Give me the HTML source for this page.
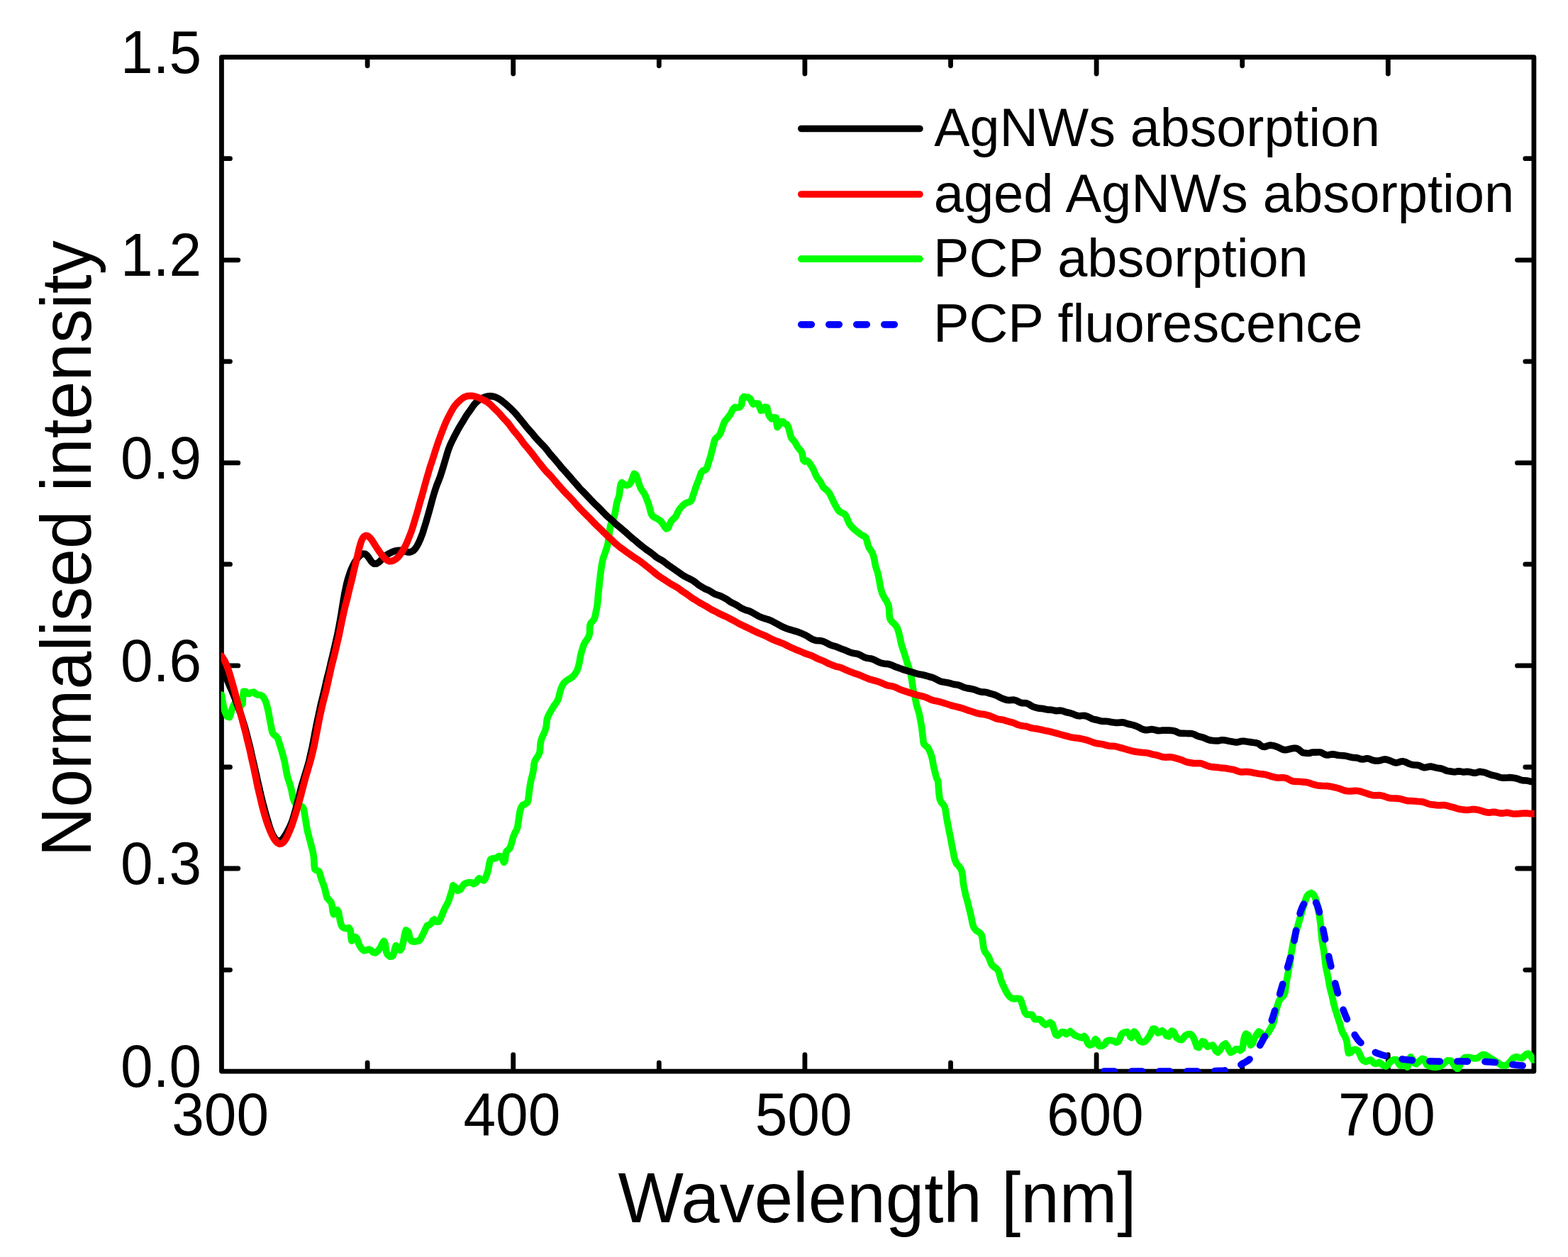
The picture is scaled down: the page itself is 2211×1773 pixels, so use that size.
<!DOCTYPE html>
<html><head><meta charset="utf-8"><title>Normalised intensity vs Wavelength</title>
<style>html,body{margin:0;padding:0;background:#fff;} svg{display:block;}</style>
</head><body>
<svg xmlns="http://www.w3.org/2000/svg" width="2211" height="1773" viewBox="0 0 2211 1773"><rect width="100%" height="100%" fill="#fff"/><rect x="312.45" y="80.7" width="1850.45" height="1430.3999999999999" fill="none" stroke="#000" stroke-width="6.8" stroke-linejoin="round"/><path d="M518.1 1509.9 V1499.0 M518.1 81.9 V92.8 M723.7 1509.9 V1487.7 M723.7 81.9 V104.1 M929.3 1509.9 V1499.0 M929.3 81.9 V92.8 M1134.9 1509.9 V1487.7 M1134.9 81.9 V104.1 M1340.5 1509.9 V1499.0 M1340.5 81.9 V92.8 M1546.1 1509.9 V1487.7 M1546.1 81.9 V104.1 M1751.7 1509.9 V1499.0 M1751.7 81.9 V92.8 M1957.3 1509.9 V1487.7 M1957.3 81.9 V104.1 M313.6 1368.1 H324.5 M2161.7 1368.1 H2150.8 M313.6 1225.0 H335.8 M2161.7 1225.0 H2139.5 M313.6 1082.0 H324.5 M2161.7 1082.0 H2150.8 M313.6 938.9 H335.8 M2161.7 938.9 H2139.5 M313.6 795.9 H324.5 M2161.7 795.9 H2150.8 M313.6 652.9 H335.8 M2161.7 652.9 H2139.5 M313.6 509.8 H324.5 M2161.7 509.8 H2150.8 M313.6 366.8 H335.8 M2161.7 366.8 H2139.5 M313.6 223.7 H324.5 M2161.7 223.7 H2150.8" stroke="#000" stroke-width="6.8" stroke-linecap="round" fill="none"/><defs><clipPath id="pc"><rect x="311.6" y="70" width="1852.1" height="1442.1"/></clipPath></defs><g clip-path="url(#pc)" fill="none" stroke-linejoin="round" stroke-linecap="round"><path d="M312.4 980.0 L313.3 986.0 L313.9 989.4 L314.5 993.0 L315.3 996.7 L316.1 1000.1 L318.1 1005.9 L320.4 1010.7 L323.6 1011.5 L325.4 1006.6 L326.3 1003.4 L328.0 997.9 L329.7 994.1 L332.2 990.6 L335.6 990.9 L338.0 992.8 L340.0 995.4 L342.0 992.6 L342.2 987.6 L342.5 983.0 L343.0 979.3 L343.6 975.4 L346.6 975.4 L348.4 978.2 L351.8 978.3 L354.5 976.8 L357.9 976.2 L360.5 978.7 L363.5 980.0 L367.4 980.3 L370.9 982.5 L372.8 985.7 L374.6 989.5 L376.1 994.0 L377.4 999.3 L378.6 1004.8 L379.6 1010.1 L380.5 1015.1 L381.4 1020.1 L382.4 1025.0 L383.2 1029.7 L384.3 1033.5 L385.9 1036.0 L389.1 1038.2 L391.7 1041.4 L393.1 1045.8 L394.0 1048.9 L394.9 1051.6 L395.7 1053.9 L396.8 1057.8 L398.3 1063.1 L399.2 1066.1 L400.0 1069.5 L400.9 1072.8 L401.6 1076.1 L402.8 1082.5 L403.9 1088.6 L405.1 1094.4 L406.7 1100.0 L407.7 1102.8 L408.6 1105.6 L409.5 1108.5 L410.3 1111.4 L411.1 1114.6 L411.8 1118.3 L412.4 1121.9 L413.1 1125.1 L414.6 1129.9 L416.3 1133.0 L419.0 1135.2 L422.5 1136.7 L426.3 1137.8 L428.3 1141.0 L429.1 1145.8 L429.8 1150.0 L430.6 1155.1 L431.1 1157.7 L431.5 1160.6 L432.0 1163.6 L433.0 1169.3 L434.1 1174.4 L435.4 1179.3 L436.2 1182.3 L437.1 1185.3 L438.1 1189.3 L439.0 1193.1 L440.6 1198.8 L441.5 1203.2 L442.1 1206.8 L442.6 1210.7 L442.9 1215.8 L443.2 1221.6 L443.9 1226.1 L446.7 1227.6 L449.7 1228.7 L451.0 1232.0 L452.0 1236.0 L453.1 1239.6 L454.6 1243.7 L456.3 1248.4 L457.8 1252.9 L458.9 1257.3 L459.9 1262.0 L461.2 1266.3 L464.1 1269.6 L467.0 1272.7 L468.3 1277.8 L468.8 1281.5 L469.2 1285.3 L470.5 1289.7 L473.5 1286.9 L475.5 1283.4 L477.6 1287.2 L478.2 1291.6 L479.1 1296.0 L480.1 1301.0 L481.4 1305.2 L482.9 1307.6 L485.8 1309.2 L488.8 1309.6 L491.9 1308.6 L494.1 1312.0 L494.5 1315.1 L494.8 1318.7 L495.0 1322.2 L495.9 1327.1 L498.7 1324.9 L500.8 1321.6 L503.2 1323.2 L504.6 1327.4 L506.3 1332.1 L508.4 1336.0 L510.8 1339.1 L513.3 1340.8 L517.4 1339.9 L520.1 1339.0 L523.7 1340.7 L526.0 1343.3 L529.6 1344.0 L532.4 1341.7 L535.2 1338.2 L537.5 1334.4 L539.6 1329.9 L541.4 1327.4 L543.4 1332.2 L543.8 1336.1 L544.3 1339.8 L544.9 1343.1 L546.8 1347.0 L549.7 1349.3 L553.8 1348.7 L555.5 1344.0 L556.2 1340.8 L556.8 1337.8 L558.4 1333.6 L561.8 1337.3 L564.2 1340.4 L566.4 1337.6 L567.4 1334.0 L568.4 1329.7 L569.4 1324.7 L570.3 1319.8 L571.1 1316.2 L572.4 1311.9 L576.0 1314.4 L576.7 1317.5 L577.4 1320.8 L578.3 1323.8 L580.2 1327.4 L583.9 1328.2 L587.2 1327.7 L591.1 1326.7 L593.6 1323.5 L595.0 1320.5 L596.6 1317.4 L598.5 1313.5 L600.5 1308.9 L602.4 1305.3 L605.5 1304.6 L608.5 1301.6 L610.0 1298.6 L612.5 1296.9 L615.5 1300.2 L619.0 1299.9 L620.4 1297.3 L622.0 1293.7 L623.9 1289.1 L625.9 1284.1 L627.8 1280.0 L629.6 1276.9 L631.3 1273.7 L633.0 1269.5 L634.6 1264.6 L636.1 1259.8 L637.4 1255.8 L638.2 1252.0 L638.7 1248.8 L642.8 1252.1 L645.3 1256.3 L649.2 1254.8 L651.9 1250.3 L654.7 1246.9 L657.8 1245.4 L661.1 1244.7 L665.2 1244.8 L667.9 1246.9 L671.6 1244.8 L673.5 1241.2 L675.5 1238.9 L679.0 1240.6 L682.5 1241.8 L684.6 1238.7 L686.5 1233.5 L688.2 1227.8 L689.4 1221.7 L690.4 1215.8 L691.7 1212.0 L695.0 1210.8 L698.7 1210.8 L701.0 1209.3 L703.4 1207.6 L706.7 1208.3 L708.8 1212.6 L710.6 1216.4 L712.3 1213.2 L712.8 1206.9 L713.2 1203.8 L714.5 1200.3 L716.5 1198.7 L718.6 1196.7 L720.3 1192.8 L721.9 1187.3 L723.3 1181.8 L724.9 1177.3 L726.5 1173.9 L728.1 1171.3 L729.2 1168.6 L730.0 1165.3 L730.6 1161.2 L731.4 1156.4 L732.1 1150.8 L732.9 1145.6 L733.9 1141.8 L734.8 1139.0 L736.8 1135.8 L740.4 1134.2 L743.8 1131.8 L744.9 1127.9 L745.5 1122.7 L746.1 1117.3 L746.8 1112.3 L747.5 1107.3 L748.4 1102.3 L749.5 1097.5 L750.8 1092.7 L751.9 1087.8 L752.6 1082.6 L753.1 1077.6 L754.2 1073.4 L756.3 1069.7 L758.9 1065.9 L761.0 1061.1 L761.7 1055.6 L761.9 1050.2 L762.7 1045.0 L764.8 1039.3 L766.2 1036.4 L767.5 1033.4 L768.7 1030.3 L770.3 1024.6 L770.8 1019.5 L771.3 1014.7 L773.0 1009.8 L775.8 1004.6 L778.8 999.5 L781.3 995.2 L783.8 991.9 L786.0 988.5 L787.9 983.7 L788.6 980.5 L789.3 977.4 L790.0 974.8 L790.7 972.3 L792.6 967.7 L794.7 964.0 L797.2 961.3 L800.2 959.0 L803.9 957.0 L807.5 954.5 L810.2 951.4 L812.3 948.3 L814.0 944.9 L815.6 940.2 L817.2 933.4 L817.9 928.8 L818.6 924.8 L820.1 919.0 L821.6 914.1 L823.1 909.6 L825.1 905.7 L827.7 902.1 L830.1 898.1 L831.5 893.4 L831.6 888.1 L831.7 883.1 L832.8 879.3 L835.0 876.7 L837.2 874.3 L838.6 871.1 L839.5 867.5 L840.2 864.0 L840.9 860.5 L841.8 856.2 L842.5 851.2 L843.1 844.2 L843.4 840.4 L843.7 836.9 L844.1 833.1 L844.6 828.6 L845.2 823.2 L845.9 817.0 L846.6 810.4 L847.5 804.0 L848.4 798.0 L849.3 792.5 L850.3 788.1 L851.5 784.5 L852.8 781.0 L854.0 777.3 L855.2 773.9 L856.2 770.6 L857.1 766.9 L857.9 762.3 L858.6 757.0 L859.3 751.1 L860.0 745.7 L860.8 741.4 L861.7 738.4 L862.7 736.1 L864.7 731.7 L866.5 727.1 L867.7 721.4 L868.7 715.2 L869.7 709.6 L870.9 705.5 L872.5 701.2 L873.4 697.1 L873.9 692.7 L874.3 688.4 L874.9 685.0 L875.6 682.4 L877.0 680.7 L880.1 683.4 L884.0 684.6 L887.3 683.3 L889.9 680.0 L891.2 676.2 L892.9 671.4 L894.3 668.1 L897.1 670.3 L898.6 674.6 L899.6 678.0 L900.7 681.4 L901.9 684.6 L903.2 687.9 L904.6 690.7 L906.1 692.8 L908.5 696.1 L910.2 699.6 L911.9 704.0 L913.6 708.5 L915.1 712.7 L916.3 717.0 L917.3 721.3 L918.3 724.8 L920.2 727.9 L923.2 729.8 L926.2 731.3 L929.1 733.2 L932.0 735.3 L934.6 738.9 L937.0 742.8 L939.4 745.7 L942.3 744.5 L944.3 739.2 L946.4 735.2 L949.1 732.2 L951.8 729.9 L953.8 727.1 L955.1 723.9 L956.5 721.0 L958.4 718.0 L960.4 715.5 L963.2 712.6 L966.6 709.9 L969.8 708.6 L972.6 707.9 L974.7 706.1 L975.6 704.0 L976.6 700.9 L978.2 696.0 L979.8 691.2 L980.9 687.9 L982.0 684.8 L983.1 682.0 L984.1 679.5 L985.2 676.9 L986.3 673.8 L987.5 670.1 L988.9 666.6 L991.3 663.7 L994.2 663.0 L996.7 660.6 L997.8 657.2 L998.8 653.5 L999.8 650.3 L1000.9 647.2 L1002.0 643.6 L1003.0 639.4 L1004.1 635.0 L1005.2 630.9 L1006.1 627.4 L1006.8 624.3 L1007.6 621.2 L1009.0 618.7 L1012.0 616.0 L1013.9 614.3 L1015.5 611.6 L1017.0 607.8 L1018.5 603.4 L1020.0 599.1 L1021.4 595.5 L1023.1 592.9 L1025.2 590.7 L1027.4 587.7 L1029.6 584.8 L1031.5 581.2 L1033.4 577.3 L1036.1 574.4 L1039.8 575.0 L1043.2 574.3 L1045.7 570.7 L1046.2 566.3 L1046.7 562.0 L1048.8 559.5 L1051.8 560.4 L1055.1 560.4 L1058.3 562.9 L1060.1 567.0 L1062.0 570.0 L1065.7 569.1 L1069.4 569.3 L1071.2 574.4 L1073.0 579.1 L1076.2 578.4 L1078.6 574.2 L1081.6 574.5 L1082.4 578.9 L1083.3 583.1 L1085.4 587.6 L1087.9 590.7 L1090.8 588.7 L1094.1 589.1 L1094.5 591.6 L1094.9 594.9 L1095.2 598.3 L1096.2 602.7 L1098.9 599.1 L1100.9 594.6 L1104.2 594.8 L1106.4 597.6 L1109.5 598.5 L1111.8 602.8 L1113.4 609.1 L1114.9 615.2 L1116.5 618.6 L1118.8 621.1 L1121.1 623.8 L1122.5 626.4 L1124.1 629.5 L1126.8 633.2 L1129.7 636.2 L1131.1 639.4 L1131.9 644.2 L1132.7 648.8 L1134.9 650.9 L1137.8 649.8 L1140.9 652.4 L1143.2 655.8 L1145.3 659.2 L1147.2 662.6 L1148.9 666.6 L1150.8 671.0 L1153.0 674.8 L1155.3 677.8 L1157.3 680.2 L1159.0 683.8 L1161.0 687.4 L1163.5 689.5 L1166.5 692.0 L1169.4 695.5 L1171.8 700.0 L1174.1 705.0 L1176.4 709.8 L1178.7 714.1 L1180.9 717.9 L1183.3 721.1 L1186.1 722.9 L1189.0 724.0 L1191.6 725.6 L1193.6 728.9 L1195.2 733.3 L1197.2 737.8 L1199.7 741.6 L1202.5 744.7 L1205.5 747.4 L1208.8 750.0 L1212.2 752.6 L1215.2 754.8 L1218.4 756.2 L1220.8 757.9 L1222.2 761.9 L1223.5 767.1 L1224.9 771.6 L1226.7 774.5 L1229.6 778.7 L1231.3 783.1 L1232.6 788.2 L1233.3 791.2 L1233.9 794.9 L1234.7 798.7 L1235.6 801.9 L1236.5 804.5 L1237.5 807.4 L1238.4 811.1 L1239.3 815.7 L1240.2 820.4 L1240.9 824.7 L1241.5 828.2 L1242.1 830.8 L1242.7 832.8 L1243.5 835.2 L1244.4 838.2 L1247.1 843.1 L1250.2 848.1 L1252.7 853.6 L1253.4 857.0 L1253.8 860.8 L1254.0 865.0 L1254.3 868.9 L1254.7 872.0 L1255.5 874.0 L1258.4 877.6 L1262.1 881.0 L1265.2 885.5 L1267.1 891.1 L1268.3 896.2 L1269.3 900.3 L1270.0 904.1 L1270.8 908.0 L1272.0 912.1 L1273.5 916.6 L1275.0 921.0 L1276.3 925.1 L1277.6 929.4 L1279.1 934.2 L1281.0 940.1 L1282.0 943.3 L1283.0 946.5 L1283.9 949.8 L1284.7 953.4 L1285.8 959.5 L1286.6 965.4 L1287.5 971.4 L1288.1 974.7 L1288.8 977.6 L1289.5 980.3 L1290.2 983.1 L1290.9 986.6 L1291.6 990.5 L1293.0 996.3 L1294.5 1001.0 L1295.8 1005.3 L1296.8 1009.9 L1297.7 1014.8 L1298.6 1020.0 L1299.1 1022.5 L1299.6 1025.2 L1300.0 1028.8 L1300.5 1032.7 L1300.9 1036.4 L1301.6 1041.8 L1301.8 1045.5 L1302.7 1049.4 L1305.2 1051.7 L1308.3 1054.3 L1310.2 1057.9 L1312.2 1062.6 L1313.8 1067.5 L1314.9 1072.1 L1315.7 1076.8 L1316.6 1081.7 L1318.0 1087.4 L1319.5 1093.3 L1320.8 1097.8 L1322.5 1101.2 L1322.9 1104.2 L1323.2 1108.2 L1323.6 1113.2 L1324.0 1118.6 L1324.6 1123.5 L1325.3 1127.5 L1327.4 1132.0 L1330.1 1134.7 L1332.2 1138.3 L1333.4 1143.7 L1333.8 1146.2 L1334.1 1148.9 L1334.5 1151.8 L1335.0 1154.8 L1335.6 1158.0 L1336.3 1161.6 L1337.0 1165.4 L1337.7 1169.1 L1338.4 1172.4 L1339.1 1175.6 L1339.8 1179.0 L1340.5 1182.7 L1341.2 1186.5 L1341.9 1190.3 L1342.6 1194.1 L1343.3 1197.5 L1344.0 1200.7 L1344.5 1203.9 L1345.1 1207.2 L1345.8 1210.3 L1346.6 1213.0 L1348.7 1218.0 L1351.7 1221.4 L1354.7 1225.1 L1356.6 1230.3 L1357.5 1236.5 L1357.8 1240.1 L1358.1 1243.8 L1358.6 1247.4 L1359.2 1250.6 L1359.8 1253.7 L1360.5 1256.9 L1361.2 1260.2 L1361.9 1263.3 L1362.7 1266.1 L1363.5 1269.0 L1364.5 1272.5 L1365.4 1276.6 L1366.4 1280.7 L1367.4 1284.6 L1368.3 1288.2 L1369.2 1291.7 L1370.0 1295.8 L1370.8 1300.1 L1371.7 1303.9 L1372.6 1306.8 L1373.8 1309.3 L1376.9 1312.8 L1380.5 1314.9 L1383.5 1317.9 L1384.5 1320.2 L1385.2 1323.7 L1385.8 1328.0 L1386.4 1332.5 L1387.0 1336.5 L1387.7 1339.6 L1389.5 1343.5 L1391.6 1346.0 L1393.5 1348.7 L1395.2 1352.7 L1396.8 1357.1 L1398.7 1361.1 L1401.4 1363.6 L1404.5 1365.6 L1407.1 1368.3 L1408.8 1372.3 L1410.0 1377.1 L1411.2 1381.6 L1412.5 1385.2 L1413.8 1388.4 L1415.4 1391.6 L1417.2 1395.5 L1419.3 1399.6 L1421.6 1403.3 L1424.2 1406.3 L1427.1 1408.2 L1430.0 1408.9 L1434.4 1408.2 L1438.3 1408.7 L1440.0 1412.0 L1441.3 1416.1 L1442.5 1419.9 L1443.7 1423.7 L1444.9 1427.7 L1447.8 1431.2 L1450.8 1431.2 L1455.0 1431.1 L1457.1 1434.4 L1459.1 1437.7 L1462.5 1437.7 L1466.4 1437.8 L1468.8 1440.2 L1471.2 1443.3 L1473.7 1445.3 L1478.0 1443.8 L1480.8 1442.2 L1483.7 1444.2 L1485.0 1447.9 L1486.2 1452.1 L1487.4 1455.8 L1488.7 1459.4 L1491.6 1460.7 L1494.5 1458.2 L1497.4 1455.6 L1500.7 1455.9 L1503.1 1458.5 L1506.4 1456.5 L1509.1 1454.6 L1511.9 1457.0 L1515.3 1460.0 L1518.7 1461.5 L1522.6 1463.0 L1525.8 1463.8 L1528.8 1461.6 L1531.3 1464.5 L1532.6 1468.7 L1534.1 1472.1 L1536.6 1474.1 L1540.3 1473.0 L1542.5 1469.2 L1544.6 1465.7 L1546.9 1467.5 L1548.1 1471.9 L1549.7 1475.3 L1553.3 1475.5 L1555.9 1474.5 L1558.5 1472.0 L1560.3 1468.6 L1563.7 1467.4 L1566.7 1467.5 L1570.7 1468.4 L1573.9 1470.4 L1577.4 1468.6 L1578.8 1465.5 L1580.0 1462.8 L1580.8 1460.0 L1583.2 1457.2 L1586.1 1456.1 L1589.2 1455.4 L1592.4 1458.4 L1593.8 1462.2 L1595.3 1463.8 L1597.6 1458.6 L1599.2 1455.0 L1602.4 1458.3 L1604.9 1464.4 L1607.4 1468.5 L1611.1 1470.0 L1614.6 1469.0 L1617.7 1465.7 L1619.7 1462.8 L1621.7 1459.7 L1623.7 1455.2 L1625.7 1451.0 L1628.7 1451.3 L1630.6 1454.1 L1632.7 1456.9 L1636.3 1455.4 L1638.8 1453.8 L1642.5 1457.0 L1644.9 1461.0 L1648.3 1461.8 L1650.3 1457.8 L1652.2 1454.0 L1655.2 1455.5 L1657.1 1460.0 L1659.2 1463.8 L1662.9 1466.2 L1666.5 1466.6 L1668.9 1463.9 L1671.3 1460.5 L1674.8 1458.8 L1678.5 1458.6 L1680.7 1460.0 L1682.7 1463.2 L1684.6 1467.4 L1686.2 1472.2 L1687.7 1476.6 L1690.5 1477.5 L1692.9 1473.2 L1695.4 1469.0 L1698.7 1470.0 L1700.6 1473.7 L1702.7 1476.3 L1706.2 1475.1 L1709.9 1474.1 L1712.2 1477.4 L1714.4 1482.1 L1717.1 1484.4 L1720.6 1480.8 L1722.5 1477.2 L1724.5 1474.3 L1728.0 1472.0 L1730.6 1475.4 L1732.8 1480.9 L1735.2 1484.5 L1739.5 1482.6 L1742.3 1479.9 L1746.3 1479.9 L1748.8 1481.7 L1751.7 1479.5 L1752.3 1477.2 L1752.9 1474.0 L1753.3 1470.3 L1753.9 1466.3 L1755.2 1461.2 L1756.8 1458.1 L1760.1 1460.1 L1760.9 1463.5 L1761.7 1467.5 L1762.6 1471.4 L1763.4 1474.2 L1766.5 1471.5 L1768.1 1466.3 L1770.1 1462.4 L1772.5 1458.3 L1775.0 1455.1 L1778.1 1457.1 L1779.9 1461.8 L1784.1 1462.0 L1786.2 1459.4 L1788.5 1456.0 L1790.7 1452.3 L1792.7 1448.8 L1794.3 1445.9 L1796.0 1441.4 L1796.8 1437.0 L1797.9 1431.8 L1798.8 1428.4 L1799.7 1424.7 L1800.7 1420.8 L1801.8 1417.0 L1802.9 1413.5 L1805.2 1408.8 L1807.8 1406.5 L1810.2 1404.1 L1811.9 1399.7 L1812.7 1394.3 L1813.4 1388.6 L1813.9 1385.6 L1814.5 1382.4 L1815.2 1378.6 L1816.0 1374.2 L1816.7 1369.8 L1817.4 1366.3 L1818.1 1362.7 L1818.7 1359.9 L1819.2 1357.0 L1819.7 1353.7 L1820.1 1349.8 L1820.6 1345.9 L1821.2 1342.3 L1821.8 1339.0 L1822.5 1335.2 L1823.2 1331.2 L1824.0 1327.7 L1824.7 1324.3 L1825.4 1321.6 L1826.8 1316.6 L1828.1 1312.3 L1829.6 1307.5 L1831.3 1301.4 L1833.1 1295.1 L1834.8 1289.8 L1836.2 1284.5 L1837.6 1279.5 L1838.9 1275.7 L1840.2 1271.7 L1841.5 1267.5 L1843.1 1263.9 L1845.2 1261.3 L1848.8 1259.5 L1852.0 1261.6 L1853.9 1265.0 L1855.6 1269.1 L1856.8 1273.5 L1857.8 1278.0 L1858.7 1282.7 L1859.8 1288.1 L1860.3 1291.1 L1860.8 1294.2 L1861.3 1297.4 L1861.8 1300.9 L1862.2 1304.3 L1862.5 1307.8 L1862.8 1311.7 L1863.2 1316.1 L1863.5 1320.4 L1863.9 1324.3 L1864.4 1327.9 L1864.9 1331.0 L1865.4 1333.6 L1865.9 1336.4 L1866.5 1339.9 L1867.0 1343.5 L1867.5 1347.0 L1868.0 1350.7 L1868.5 1354.8 L1869.0 1359.1 L1869.5 1363.1 L1870.1 1366.5 L1870.7 1369.4 L1871.4 1372.4 L1872.1 1375.9 L1872.9 1379.7 L1873.6 1383.7 L1874.3 1387.9 L1875.0 1391.4 L1875.7 1395.1 L1876.5 1398.1 L1877.2 1400.6 L1877.9 1403.0 L1878.5 1405.6 L1879.6 1410.8 L1880.6 1415.4 L1881.6 1419.3 L1882.8 1423.4 L1884.3 1428.0 L1885.8 1433.1 L1887.6 1438.7 L1889.2 1443.4 L1890.3 1447.3 L1891.3 1451.2 L1892.6 1455.2 L1894.6 1458.9 L1897.0 1462.8 L1898.9 1468.0 L1899.9 1474.1 L1900.2 1477.6 L1900.5 1480.9 L1901.6 1485.5 L1904.8 1484.6 L1907.4 1481.4 L1911.0 1480.1 L1914.5 1481.9 L1916.4 1484.5 L1918.0 1488.3 L1919.6 1492.3 L1922.2 1495.9 L1925.9 1497.5 L1929.1 1496.2 L1932.2 1494.8 L1934.4 1496.6 L1936.4 1498.8 L1939.1 1500.5 L1942.1 1499.9 L1944.6 1498.3 L1947.8 1500.3 L1950.2 1502.8 L1954.0 1503.9 L1957.4 1502.0 L1959.6 1498.7 L1963.1 1495.8 L1965.9 1494.5 L1969.2 1494.9 L1971.2 1498.4 L1973.1 1501.7 L1975.0 1503.3 L1978.9 1502.4 L1981.6 1500.3 L1984.3 1501.8 L1984.5 1505.1 L1986.0 1501.4 L1986.7 1497.9 L1987.4 1494.6 L1989.1 1490.8 L1992.2 1495.0 L1994.4 1499.5 L1996.9 1500.7 L2000.0 1498.1 L2002.4 1495.7 L2005.2 1493.4 L2008.7 1494.0 L2010.2 1498.1 L2012.1 1502.1 L2015.3 1503.7 L2019.8 1504.8 L2024.9 1505.3 L2030.0 1504.2 L2032.8 1502.9 L2035.6 1500.6 L2038.5 1498.0 L2041.1 1495.9 L2045.8 1496.0 L2047.9 1498.4 L2049.9 1501.6 L2051.8 1504.6 L2055.2 1507.6 L2057.8 1504.4 L2058.9 1501.7 L2060.0 1498.7 L2061.5 1495.3 L2065.7 1491.6 L2071.8 1491.4 L2075.0 1492.2 L2078.0 1492.8 L2083.0 1492.6 L2086.9 1490.0 L2090.4 1487.6 L2094.2 1487.9 L2097.8 1490.0 L2101.7 1492.7 L2106.3 1495.3 L2109.0 1497.0 L2111.8 1498.8 L2114.6 1500.8 L2117.4 1502.6 L2123.0 1502.9 L2125.9 1501.4 L2128.7 1498.4 L2131.5 1494.8 L2134.1 1492.1 L2138.3 1490.6 L2141.5 1491.8 L2145.7 1492.6 L2148.9 1490.1 L2152.1 1487.0 L2155.0 1486.1 L2157.8 1488.5 L2160.3 1492.4 L2162.0 1495.0" stroke="#0f0" stroke-width="9.7"/><path d="M312.4 941.0 L313.7 944.5 L314.9 947.2 L316.2 949.7 L317.4 952.4 L318.7 955.2 L319.9 958.0 L321.2 960.9 L322.4 964.0 L323.7 967.0 L324.9 969.9 L326.2 972.6 L327.4 975.5 L328.7 978.4 L329.9 981.5 L331.2 984.8 L332.4 988.3 L333.7 991.6 L334.9 994.9 L336.2 998.1 L337.4 1001.6 L338.4 1004.4 L339.4 1007.2 L340.4 1010.2 L341.4 1013.3 L342.4 1016.6 L343.4 1019.8 L344.4 1023.0 L345.4 1026.3 L346.4 1030.0 L347.4 1033.8 L348.4 1037.7 L349.2 1040.7 L349.9 1043.7 L350.7 1046.6 L351.4 1049.6 L352.2 1052.6 L352.9 1055.6 L353.7 1058.8 L354.4 1062.3 L355.2 1065.8 L355.9 1069.1 L356.7 1072.4 L357.4 1075.5 L358.2 1078.6 L358.9 1081.9 L359.7 1085.3 L360.4 1088.7 L361.2 1092.0 L361.9 1095.3 L362.7 1098.8 L363.4 1102.3 L364.2 1105.5 L364.9 1108.5 L365.7 1111.6 L366.4 1115.0 L367.2 1118.4 L367.9 1121.6 L368.7 1124.7 L369.4 1127.8 L370.2 1130.9 L370.9 1133.8 L371.7 1136.5 L372.4 1139.3 L373.4 1143.0 L374.4 1146.7 L375.4 1150.3 L376.4 1153.7 L377.4 1157.2 L378.4 1160.5 L379.4 1163.8 L380.4 1167.0 L381.7 1170.7 L382.9 1173.9 L384.2 1176.7 L385.7 1179.5 L387.4 1182.1 L389.4 1184.4 L391.9 1186.1 L394.9 1186.1 L397.4 1184.5 L399.7 1182.0 L401.4 1179.5 L403.2 1176.6 L404.9 1173.5 L406.4 1170.6 L407.9 1167.5 L409.2 1164.9 L410.4 1162.1 L411.7 1158.9 L412.7 1156.0 L413.7 1152.8 L414.7 1149.4 L415.7 1145.9 L416.7 1142.2 L417.7 1138.4 L418.4 1135.4 L419.2 1132.4 L419.9 1129.5 L420.7 1126.8 L421.4 1124.1 L422.2 1121.1 L422.9 1117.9 L423.9 1113.9 L424.9 1110.1 L425.9 1106.7 L426.9 1103.4 L427.9 1100.0 L428.9 1096.7 L429.9 1093.4 L430.9 1090.1 L431.9 1087.0 L432.9 1083.8 L433.9 1080.5 L434.9 1076.9 L435.7 1074.0 L436.4 1070.8 L437.2 1067.4 L437.9 1064.0 L438.7 1060.6 L439.4 1057.4 L440.2 1054.0 L440.9 1050.3 L441.7 1046.4 L442.4 1042.4 L443.2 1038.4 L443.9 1034.4 L444.7 1030.6 L445.4 1026.8 L446.2 1023.1 L446.9 1019.4 L447.7 1015.7 L448.4 1012.2 L449.2 1008.8 L449.9 1005.3 L450.7 1001.7 L451.4 998.1 L452.2 994.7 L452.9 991.6 L453.7 988.6 L454.4 985.6 L455.2 982.4 L455.9 979.2 L456.7 976.2 L457.4 973.2 L458.2 970.0 L458.9 966.5 L459.7 963.0 L460.4 959.7 L461.2 956.6 L461.9 953.8 L462.7 951.0 L463.4 948.2 L464.2 945.1 L464.9 942.0 L465.7 938.6 L466.4 935.2 L467.2 932.1 L467.9 929.2 L468.7 926.2 L469.4 922.9 L470.2 919.6 L470.9 916.4 L471.7 913.2 L472.4 910.0 L473.2 906.7 L473.9 903.5 L474.7 900.2 L475.4 896.9 L476.2 893.3 L476.9 889.5 L477.7 885.5 L478.4 881.5 L479.2 877.5 L479.9 873.3 L480.7 868.9 L481.2 865.7 L481.7 862.4 L482.2 859.3 L482.7 856.3 L483.2 853.3 L483.7 850.3 L484.4 845.7 L485.2 841.3 L485.9 837.3 L486.7 833.6 L487.4 830.0 L488.2 826.4 L488.9 823.0 L489.7 820.0 L490.7 816.4 L491.7 813.2 L492.7 810.2 L493.7 807.3 L494.9 803.9 L496.2 801.0 L497.7 797.8 L499.2 795.0 L500.9 792.0 L502.7 789.3 L504.7 786.6 L506.7 784.4 L509.2 782.2 L511.9 781.0 L515.0 781.4 L517.5 783.4 L519.5 785.9 L521.2 788.5 L523.0 791.1 L525.0 793.5 L527.5 795.2 L530.5 795.1 L533.2 793.7 L535.7 791.7 L538.0 789.4 L540.2 787.0 L542.5 784.8 L545.0 782.9 L547.5 781.4 L550.2 780.0 L553.0 778.6 L556.0 777.5 L559.0 776.7 L562.0 776.3 L565.0 776.4 L568.0 777.1 L571.0 777.9 L574.0 778.6 L577.0 778.9 L580.0 778.3 L582.7 776.8 L585.0 774.5 L587.0 771.8 L588.7 768.8 L590.2 765.9 L591.7 762.7 L593.0 759.7 L594.2 756.6 L595.5 753.3 L596.5 750.2 L597.5 746.9 L598.5 743.6 L599.5 740.4 L600.5 737.3 L601.5 733.9 L602.5 730.3 L603.5 726.8 L604.5 723.4 L605.5 719.9 L606.5 716.3 L607.5 712.5 L608.5 708.7 L609.5 705.0 L610.5 701.4 L611.5 698.0 L612.5 694.7 L613.5 691.5 L614.5 688.4 L615.5 685.5 L616.7 682.3 L618.0 679.3 L619.2 676.0 L620.5 672.7 L621.7 669.0 L622.7 666.0 L623.7 662.8 L624.7 659.5 L625.7 656.2 L626.7 652.9 L627.7 649.4 L628.7 646.0 L629.7 642.6 L630.7 639.2 L631.7 636.1 L632.7 633.2 L634.0 629.8 L635.2 626.8 L636.5 624.1 L638.0 621.0 L639.5 618.0 L641.0 615.0 L642.5 612.2 L644.0 609.4 L645.5 606.5 L647.0 603.8 L648.5 601.2 L650.2 598.4 L652.0 595.6 L653.7 592.7 L655.5 589.8 L657.2 586.9 L659.0 584.2 L660.7 581.8 L662.5 579.4 L664.5 576.5 L666.5 573.6 L668.5 570.8 L670.5 568.5 L672.7 566.4 L675.0 564.7 L677.5 563.0 L680.2 561.4 L683.2 560.2 L686.2 559.4 L689.2 558.9 L692.2 558.7 L695.2 559.1 L698.2 559.9 L701.2 561.3 L704.0 562.9 L706.7 564.7 L709.2 566.6 L711.7 568.7 L714.2 570.9 L716.5 572.9 L718.7 574.9 L721.0 577.0 L723.2 579.3 L725.5 581.6 L727.5 583.9 L729.5 586.2 L731.5 588.7 L733.5 591.1 L735.5 593.5 L737.5 596.0 L739.5 598.5 L741.5 601.1 L743.5 603.5 L745.5 605.8 L747.5 608.0 L749.5 610.2 L751.5 612.6 L753.5 615.1 L755.5 617.5 L757.5 619.7 L759.5 621.8 L761.7 624.2 L764.0 626.6 L766.2 628.8 L768.2 630.9 L770.2 633.3 L772.2 635.9 L774.2 638.5 L776.2 641.0 L778.2 643.3 L780.2 645.5 L782.2 647.8 L784.2 650.1 L786.2 652.5 L788.2 654.9 L790.2 657.4 L792.2 659.9 L794.2 662.1 L796.2 664.3 L798.2 666.4 L800.2 668.7 L802.2 671.0 L804.2 673.3 L806.2 675.7 L808.2 677.9 L810.2 680.2 L812.5 682.7 L814.7 685.4 L817.0 688.1 L819.2 690.6 L821.5 692.8 L823.7 695.0 L826.0 697.4 L828.2 699.8 L830.5 702.1 L832.7 704.5 L835.0 706.9 L837.2 709.2 L839.5 711.4 L841.7 713.5 L844.0 715.7 L846.2 718.0 L848.5 720.3 L850.7 722.6 L853.0 725.0 L855.2 727.2 L857.5 729.3 L859.7 731.2 L862.0 733.1 L864.2 735.2 L866.5 737.3 L868.7 739.4 L871.0 741.3 L873.2 743.1 L875.5 745.0 L878.0 747.1 L880.5 749.2 L883.0 751.4 L885.5 753.7 L888.0 756.0 L890.5 758.2 L893.0 760.3 L895.5 762.3 L898.0 764.4 L900.5 766.6 L903.0 768.6 L905.5 770.6 L908.0 772.5 L910.5 774.5 L913.0 776.3 L915.5 777.9 L918.0 779.7 L920.5 781.7 L923.0 783.9 L925.5 785.9 L928.0 787.5 L930.5 788.9 L933.0 790.2 L935.5 791.8 L938.0 793.8 L940.5 795.8 L943.0 797.6 L945.5 799.3 L948.0 801.0 L950.5 802.7 L953.2 804.7 L956.0 806.6 L958.7 808.5 L961.5 810.4 L964.2 812.2 L967.0 813.8 L969.7 815.2 L972.5 816.5 L975.2 817.9 L978.0 819.5 L980.7 821.5 L983.5 823.8 L986.2 825.9 L989.0 827.5 L991.7 829.1 L994.5 830.7 L997.2 831.8 L1000.0 833.0 L1002.7 834.7 L1005.5 836.5 L1008.2 838.0 L1011.0 839.0 L1013.7 839.9 L1016.5 840.9 L1019.2 842.3 L1022.0 843.8 L1024.7 845.2 L1027.5 847.3 L1030.2 849.2 L1033.0 850.6 L1035.7 851.9 L1038.5 853.3 L1041.2 855.0 L1044.0 856.9 L1046.7 858.4 L1049.5 859.7 L1052.2 860.7 L1055.0 861.4 L1057.7 862.4 L1060.5 863.8 L1063.2 865.4 L1066.0 867.1 L1068.7 868.6 L1071.5 870.0 L1074.2 871.1 L1077.0 872.0 L1079.7 872.8 L1082.5 873.6 L1085.2 874.6 L1088.0 875.8 L1090.7 877.2 L1093.5 878.7 L1096.5 880.4 L1099.5 882.0 L1102.5 883.6 L1105.5 885.0 L1108.5 886.3 L1111.5 887.4 L1114.5 888.2 L1117.5 889.1 L1120.5 890.0 L1123.5 890.9 L1126.5 891.9 L1129.5 893.1 L1132.5 894.4 L1135.5 895.7 L1138.5 897.4 L1141.5 899.3 L1144.5 901.2 L1147.5 902.4 L1150.5 903.4 L1153.5 903.6 L1156.5 903.7 L1159.5 904.3 L1162.5 905.4 L1165.5 906.8 L1168.5 908.5 L1171.5 909.9 L1174.5 910.8 L1177.5 911.7 L1180.5 912.7 L1183.5 913.9 L1186.5 915.2 L1189.5 916.3 L1192.5 917.4 L1195.5 918.7 L1198.5 920.0 L1201.5 921.0 L1204.5 921.6 L1207.5 922.0 L1210.5 922.8 L1213.5 924.2 L1216.5 925.9 L1219.5 927.4 L1222.5 928.3 L1225.5 928.7 L1228.5 929.1 L1231.5 930.1 L1234.5 931.5 L1237.5 933.1 L1240.5 934.5 L1243.5 935.5 L1246.5 936.1 L1249.5 936.3 L1252.5 936.6 L1255.5 937.5 L1258.5 938.6 L1261.5 940.0 L1264.5 941.2 L1267.5 942.2 L1270.5 943.3 L1273.5 944.4 L1276.5 945.4 L1279.5 946.2 L1282.5 947.1 L1285.5 947.9 L1288.5 948.8 L1291.5 949.8 L1294.5 950.7 L1297.5 951.2 L1300.5 951.7 L1303.5 952.5 L1306.5 953.3 L1309.5 954.2 L1312.5 955.0 L1315.5 955.9 L1318.5 957.2 L1321.5 958.8 L1324.5 960.4 L1327.5 961.5 L1330.5 962.0 L1333.5 962.5 L1336.5 963.0 L1339.5 963.7 L1342.5 964.6 L1345.5 965.4 L1348.5 965.8 L1351.5 966.3 L1354.5 967.4 L1357.5 968.7 L1360.5 969.9 L1363.5 970.6 L1366.5 971.1 L1369.5 971.6 L1372.5 972.3 L1375.5 973.2 L1378.5 974.4 L1381.5 975.5 L1384.5 976.1 L1387.5 976.2 L1390.5 976.5 L1393.5 977.3 L1396.5 978.3 L1399.5 979.1 L1402.5 980.0 L1405.5 981.2 L1408.5 982.9 L1411.5 984.4 L1414.5 985.7 L1417.5 986.7 L1420.5 987.5 L1423.5 987.7 L1426.5 987.3 L1429.5 987.2 L1432.5 987.9 L1435.5 989.4 L1438.5 990.9 L1441.5 991.7 L1444.5 991.6 L1447.5 991.9 L1450.5 993.2 L1453.5 995.1 L1456.5 996.7 L1459.5 997.8 L1462.5 998.5 L1465.5 999.2 L1468.5 999.4 L1471.5 999.7 L1474.5 1000.5 L1477.5 1001.1 L1480.5 1001.1 L1483.5 1001.4 L1486.5 1002.1 L1489.5 1002.6 L1492.5 1002.3 L1495.5 1002.2 L1498.5 1002.8 L1501.5 1004.0 L1504.5 1004.9 L1507.5 1005.4 L1510.5 1006.2 L1513.5 1007.3 L1516.5 1008.6 L1519.5 1009.5 L1522.5 1009.8 L1525.5 1009.5 L1528.5 1009.4 L1531.5 1009.9 L1534.5 1011.1 L1537.5 1012.6 L1540.5 1014.1 L1543.5 1014.9 L1546.5 1015.4 L1549.5 1016.2 L1552.5 1017.0 L1555.5 1017.4 L1558.5 1017.3 L1561.5 1017.5 L1564.5 1018.1 L1567.5 1018.7 L1570.5 1019.0 L1573.5 1019.3 L1576.5 1019.4 L1579.5 1019.1 L1582.5 1018.9 L1585.5 1019.4 L1588.5 1020.5 L1591.5 1021.4 L1594.5 1021.9 L1597.5 1022.6 L1600.5 1023.6 L1603.5 1024.8 L1606.5 1026.2 L1609.5 1027.9 L1612.5 1029.1 L1615.5 1029.6 L1618.5 1029.6 L1621.5 1029.0 L1624.5 1028.7 L1627.5 1029.2 L1630.5 1030.1 L1633.5 1030.6 L1636.5 1030.5 L1639.5 1030.1 L1642.5 1030.0 L1645.5 1030.2 L1648.5 1030.2 L1651.5 1030.3 L1654.5 1030.7 L1657.5 1031.4 L1660.5 1033.0 L1663.5 1034.1 L1666.5 1034.3 L1669.5 1034.3 L1672.5 1034.5 L1675.5 1034.6 L1678.5 1034.5 L1681.5 1035.0 L1684.5 1036.0 L1687.5 1037.7 L1690.5 1038.8 L1693.5 1039.5 L1696.5 1040.2 L1699.5 1041.5 L1702.5 1042.9 L1705.5 1043.9 L1708.5 1044.4 L1711.5 1044.7 L1714.5 1044.9 L1717.5 1044.9 L1720.5 1044.3 L1723.5 1043.8 L1726.5 1044.0 L1729.5 1044.6 L1732.5 1045.2 L1735.5 1045.7 L1738.5 1046.3 L1741.5 1046.8 L1744.5 1046.9 L1747.5 1046.3 L1750.5 1045.5 L1753.5 1045.4 L1756.5 1045.8 L1759.5 1046.2 L1762.5 1046.6 L1765.5 1047.1 L1768.5 1047.5 L1771.5 1047.9 L1774.5 1048.8 L1777.5 1051.3 L1780.5 1053.1 L1783.5 1053.3 L1786.5 1052.3 L1789.5 1051.4 L1792.5 1051.2 L1795.5 1051.7 L1798.5 1052.6 L1801.5 1053.7 L1804.5 1055.1 L1807.5 1056.6 L1810.5 1057.6 L1813.5 1057.7 L1816.5 1057.1 L1819.5 1056.3 L1822.5 1055.6 L1825.5 1055.2 L1828.5 1055.6 L1831.5 1057.2 L1834.5 1059.9 L1837.5 1061.8 L1840.5 1062.2 L1843.5 1062.5 L1846.5 1062.5 L1849.5 1061.3 L1852.5 1061.0 L1855.5 1061.1 L1858.5 1061.0 L1861.5 1061.0 L1864.5 1062.1 L1867.5 1063.9 L1870.5 1065.0 L1873.5 1064.8 L1876.5 1064.2 L1879.5 1063.9 L1882.5 1064.3 L1885.5 1065.1 L1888.5 1065.5 L1891.5 1065.7 L1894.5 1065.8 L1897.5 1066.2 L1900.5 1066.9 L1903.5 1067.7 L1906.5 1068.3 L1909.5 1068.6 L1912.5 1068.8 L1915.5 1069.5 L1918.5 1070.6 L1921.5 1071.0 L1924.5 1070.4 L1927.5 1069.8 L1930.5 1070.3 L1933.5 1071.5 L1936.5 1072.6 L1939.5 1073.2 L1942.5 1073.2 L1945.5 1072.8 L1948.5 1071.9 L1951.5 1071.1 L1954.5 1071.2 L1957.5 1072.0 L1960.5 1073.1 L1963.5 1074.4 L1966.5 1075.6 L1969.5 1075.9 L1972.5 1075.1 L1975.5 1074.0 L1978.5 1073.9 L1981.5 1074.7 L1984.5 1076.2 L1987.5 1077.5 L1990.5 1078.5 L1993.5 1079.0 L1996.5 1079.1 L1999.5 1079.3 L2002.5 1080.4 L2005.5 1081.9 L2008.5 1082.7 L2011.5 1082.3 L2014.5 1081.4 L2017.5 1081.1 L2020.5 1081.7 L2023.5 1082.6 L2026.5 1083.2 L2029.5 1083.6 L2032.5 1084.1 L2035.5 1085.2 L2038.5 1086.7 L2041.5 1087.5 L2044.5 1087.9 L2047.5 1088.4 L2050.4 1088.8 L2053.4 1088.5 L2056.4 1087.8 L2059.4 1088.1 L2062.4 1088.8 L2065.4 1088.8 L2068.4 1088.4 L2071.4 1088.6 L2074.4 1089.3 L2077.4 1090.1 L2080.4 1090.2 L2083.4 1089.4 L2086.4 1088.4 L2089.4 1088.9 L2092.4 1089.3 L2095.4 1090.2 L2098.4 1091.4 L2101.4 1092.6 L2104.4 1093.5 L2107.4 1094.1 L2110.4 1094.8 L2113.4 1095.9 L2116.4 1096.8 L2119.4 1097.2 L2122.4 1097.2 L2125.4 1097.0 L2128.4 1096.7 L2131.4 1096.8 L2134.4 1097.2 L2137.4 1097.8 L2140.4 1098.6 L2143.4 1099.8 L2146.4 1100.6 L2149.4 1100.8 L2152.4 1101.0 L2155.4 1101.6 L2158.4 1102.3 L2161.4 1102.5 L2164.5 1102.2 L2166.0 1103.5" stroke="#000" stroke-width="9.7"/><path d="M312.4 925.3 L314.4 928.2 L316.2 931.0 L317.7 934.0 L318.9 936.8 L320.2 939.9 L321.4 943.2 L322.4 946.0 L323.4 949.1 L324.4 952.3 L325.4 955.7 L326.4 959.2 L327.4 962.7 L328.4 966.2 L329.4 969.7 L330.4 973.3 L331.4 977.1 L332.4 981.0 L333.4 984.8 L334.4 988.6 L335.4 992.3 L336.4 996.0 L337.4 999.6 L338.4 1003.3 L339.4 1007.1 L340.4 1011.0 L341.4 1014.8 L342.4 1018.7 L343.2 1021.6 L343.9 1024.6 L344.7 1027.4 L345.4 1030.1 L346.2 1033.0 L346.9 1036.0 L347.7 1039.2 L348.4 1042.5 L349.2 1045.6 L349.9 1048.5 L350.7 1051.5 L351.4 1054.5 L352.2 1057.7 L352.9 1061.0 L353.7 1064.5 L354.4 1068.1 L355.2 1071.6 L355.9 1074.8 L356.7 1078.0 L357.4 1081.3 L358.2 1084.8 L358.9 1088.3 L359.7 1091.9 L360.4 1095.5 L361.2 1099.1 L361.9 1102.9 L362.7 1106.6 L363.4 1110.3 L364.2 1113.6 L364.9 1116.7 L365.7 1119.7 L366.4 1122.9 L367.2 1126.2 L367.9 1129.4 L368.7 1132.6 L369.4 1135.7 L370.4 1139.5 L371.4 1143.2 L372.4 1146.8 L373.4 1150.4 L374.4 1153.7 L375.4 1157.0 L376.4 1160.0 L377.4 1162.8 L378.4 1165.5 L379.7 1168.8 L380.9 1171.9 L382.2 1174.8 L383.7 1178.1 L385.2 1181.0 L386.9 1183.8 L388.9 1186.5 L391.2 1188.8 L393.9 1190.3 L396.9 1190.0 L399.4 1188.3 L401.4 1185.9 L403.2 1183.2 L404.7 1180.4 L406.2 1177.2 L407.4 1174.4 L408.7 1171.5 L409.9 1168.5 L411.2 1165.3 L412.4 1161.8 L413.4 1158.8 L414.4 1155.6 L415.4 1152.5 L416.4 1149.3 L417.4 1146.1 L418.4 1142.7 L419.4 1139.3 L420.4 1135.9 L421.4 1132.5 L422.4 1128.9 L423.4 1125.2 L424.4 1121.4 L425.4 1117.6 L426.4 1113.8 L427.4 1110.1 L428.4 1106.1 L429.4 1102.2 L430.4 1098.5 L431.4 1095.0 L432.4 1091.6 L433.4 1088.3 L434.4 1084.9 L435.4 1081.5 L436.4 1078.1 L437.4 1074.6 L438.4 1071.0 L439.4 1067.0 L440.2 1063.9 L440.9 1060.8 L441.7 1057.8 L442.4 1054.6 L443.2 1051.1 L443.9 1047.3 L444.7 1043.4 L445.4 1039.5 L446.2 1035.6 L446.9 1031.7 L447.7 1027.8 L448.4 1023.8 L449.2 1019.9 L449.9 1016.1 L450.7 1012.4 L451.4 1008.9 L452.2 1005.5 L452.9 1002.1 L453.7 998.8 L454.4 995.5 L455.2 992.3 L455.9 989.4 L456.9 985.6 L457.9 981.8 L458.7 978.9 L459.4 975.9 L460.2 972.7 L460.9 969.5 L461.7 966.2 L462.4 962.9 L463.2 959.4 L463.9 955.9 L464.7 952.5 L465.4 949.1 L466.2 945.8 L466.9 942.3 L467.7 939.1 L468.4 936.2 L469.2 933.3 L469.9 930.4 L470.7 927.4 L471.4 924.4 L472.2 921.4 L472.9 918.2 L473.7 914.9 L474.4 911.7 L475.2 908.5 L475.9 905.3 L476.7 902.1 L477.4 898.9 L478.2 895.4 L478.9 891.8 L479.7 888.1 L480.4 884.3 L481.2 880.6 L481.9 876.9 L482.7 873.4 L483.4 869.9 L484.2 866.5 L484.9 863.1 L485.7 859.7 L486.4 856.5 L487.2 853.6 L487.9 850.8 L488.7 847.9 L489.4 844.9 L490.2 841.9 L490.9 838.6 L491.7 835.3 L492.4 832.3 L493.2 829.3 L493.9 826.3 L494.7 823.3 L495.4 820.4 L496.2 817.5 L496.9 814.4 L497.7 811.0 L498.4 807.6 L499.2 804.4 L499.9 801.2 L500.7 798.1 L501.4 795.0 L502.2 791.9 L502.9 788.7 L503.7 785.4 L504.4 782.2 L505.2 778.9 L505.9 775.7 L506.7 772.7 L507.7 769.0 L508.7 765.7 L509.9 762.3 L511.4 759.1 L513.2 756.8 L516.0 755.3 L519.0 756.2 L521.5 758.3 L523.5 760.6 L525.2 763.1 L527.0 765.9 L528.7 768.7 L530.5 771.5 L532.2 774.2 L534.0 776.7 L535.7 779.2 L537.5 781.6 L539.5 784.1 L541.5 786.4 L543.7 788.6 L546.2 790.5 L549.2 791.6 L552.2 791.5 L555.2 790.4 L558.0 788.7 L560.5 786.6 L562.7 784.2 L564.7 781.6 L566.5 779.0 L568.2 776.1 L569.7 773.5 L571.2 770.8 L572.7 767.7 L574.0 764.9 L575.2 761.8 L576.5 758.7 L577.7 755.6 L579.0 752.4 L580.0 749.7 L581.0 746.7 L582.0 743.5 L583.0 740.3 L584.0 737.0 L585.0 733.6 L586.0 730.2 L587.0 726.9 L588.0 723.6 L589.0 720.2 L590.0 716.5 L591.0 712.9 L592.0 709.2 L593.0 705.8 L594.0 702.5 L595.0 699.1 L596.0 695.5 L597.0 691.9 L598.0 688.3 L599.0 684.6 L600.0 680.9 L601.0 677.2 L602.0 673.8 L603.0 670.4 L604.0 667.0 L605.0 663.5 L606.0 660.1 L607.0 656.9 L608.0 654.0 L609.0 651.1 L610.0 648.0 L611.0 644.9 L612.0 641.7 L613.0 638.5 L614.0 635.3 L615.0 632.2 L616.0 629.2 L617.0 626.2 L618.0 623.3 L619.2 619.8 L620.5 616.5 L621.7 613.2 L623.0 609.9 L624.2 606.6 L625.5 603.4 L626.7 600.3 L628.0 597.3 L629.2 594.4 L630.7 591.2 L632.2 588.3 L633.7 585.5 L635.2 582.6 L636.7 579.7 L638.5 576.6 L640.2 573.9 L642.0 571.5 L644.0 569.2 L646.2 566.9 L648.5 564.7 L651.0 562.6 L653.7 560.7 L656.5 559.4 L659.5 558.5 L662.5 558.3 L665.5 558.4 L668.5 558.8 L671.5 559.7 L674.5 560.8 L677.2 562.0 L680.0 563.3 L682.7 564.6 L685.5 566.1 L688.0 567.8 L690.5 569.7 L693.0 572.1 L695.5 574.6 L697.7 576.8 L700.0 578.9 L702.2 581.1 L704.5 583.5 L706.7 586.1 L709.0 588.7 L711.0 590.9 L713.0 593.1 L715.0 595.2 L717.0 597.5 L719.0 600.1 L721.0 602.9 L723.0 605.6 L725.0 608.2 L727.0 610.5 L729.0 612.9 L731.0 615.3 L733.0 617.8 L735.0 620.6 L737.0 623.5 L739.0 626.2 L741.0 628.6 L743.0 630.8 L745.0 633.2 L747.0 635.6 L749.0 638.1 L751.0 640.6 L753.0 643.1 L755.0 645.8 L757.0 648.5 L759.0 651.1 L761.0 653.6 L763.0 656.1 L765.0 658.7 L767.0 661.1 L769.0 663.5 L771.0 665.7 L773.0 667.7 L775.0 669.7 L777.0 671.8 L779.0 674.1 L781.0 676.5 L783.0 679.0 L785.0 681.3 L787.2 683.9 L789.5 686.4 L791.7 688.9 L794.0 691.5 L796.2 694.0 L798.5 696.3 L800.7 698.6 L803.0 700.8 L805.2 703.1 L807.5 705.6 L809.7 708.2 L812.0 710.8 L814.2 713.3 L816.5 715.7 L818.7 718.1 L821.0 720.5 L823.2 722.8 L825.5 725.1 L827.7 727.2 L830.0 729.4 L832.2 731.7 L834.5 734.0 L836.7 736.5 L839.0 738.8 L841.2 741.0 L843.5 743.1 L845.7 745.2 L848.0 747.4 L850.2 749.7 L852.5 751.9 L854.7 754.1 L857.0 756.3 L859.2 758.4 L861.5 760.5 L863.7 762.6 L866.2 765.1 L868.7 767.3 L871.2 769.4 L873.7 771.5 L876.2 773.2 L878.7 775.0 L881.2 776.9 L883.7 778.7 L886.2 780.4 L888.7 782.2 L891.2 784.0 L893.7 785.7 L896.2 787.4 L898.7 788.9 L901.2 790.6 L903.7 792.4 L906.2 794.3 L908.7 796.2 L911.2 798.2 L913.7 800.2 L916.2 802.3 L918.7 804.3 L921.2 806.4 L923.7 808.4 L926.2 810.4 L928.7 812.3 L931.2 814.0 L933.7 815.6 L936.5 817.4 L939.2 819.2 L942.0 821.1 L944.7 822.9 L947.5 824.5 L950.2 826.0 L953.0 827.5 L955.5 829.1 L958.0 830.8 L960.5 832.7 L963.0 834.5 L965.5 836.1 L968.0 837.7 L970.5 839.4 L973.0 841.3 L975.7 843.3 L978.5 845.1 L981.2 846.7 L984.0 848.5 L986.7 850.2 L989.5 851.8 L992.2 853.2 L995.0 854.7 L997.7 856.4 L1000.5 858.2 L1003.2 859.8 L1006.0 861.2 L1008.7 862.5 L1011.5 863.9 L1014.2 865.4 L1017.0 866.8 L1019.7 868.0 L1022.5 869.2 L1025.2 870.5 L1028.0 871.9 L1030.7 873.4 L1033.5 874.8 L1036.2 876.3 L1039.0 877.9 L1041.7 879.4 L1044.5 880.9 L1047.2 882.2 L1050.0 883.5 L1052.7 884.7 L1055.5 886.1 L1058.2 887.4 L1061.0 888.8 L1063.7 890.2 L1066.5 891.5 L1069.2 892.7 L1072.0 893.9 L1074.7 895.0 L1077.5 896.1 L1080.2 897.3 L1083.0 898.7 L1085.7 900.2 L1088.5 901.6 L1091.2 902.8 L1094.0 903.9 L1096.7 904.9 L1099.5 905.9 L1102.2 907.0 L1105.0 908.1 L1107.7 909.4 L1110.5 910.9 L1113.2 912.3 L1116.2 913.6 L1119.2 914.9 L1122.2 916.2 L1125.2 917.4 L1128.2 918.6 L1131.2 919.9 L1134.2 921.2 L1137.2 922.4 L1140.2 923.4 L1143.2 924.3 L1146.2 925.6 L1149.2 927.1 L1152.2 928.7 L1155.2 930.0 L1158.2 931.1 L1161.2 932.4 L1164.2 933.8 L1167.2 935.5 L1170.2 936.8 L1173.2 937.9 L1176.2 939.1 L1179.2 940.2 L1182.2 940.7 L1185.2 941.6 L1188.2 942.8 L1191.2 944.2 L1194.2 945.5 L1197.2 946.7 L1200.2 947.9 L1203.2 949.1 L1206.2 950.2 L1209.2 951.2 L1212.2 952.2 L1215.2 953.4 L1218.2 954.8 L1221.2 956.1 L1224.2 957.3 L1227.2 958.3 L1230.2 959.2 L1233.2 960.0 L1236.2 960.8 L1239.2 961.7 L1242.2 962.9 L1245.2 964.2 L1248.2 965.6 L1251.2 966.7 L1254.2 967.4 L1257.2 967.8 L1260.2 968.4 L1263.2 969.6 L1266.2 971.1 L1269.2 972.5 L1272.2 973.7 L1275.2 974.7 L1278.2 975.7 L1281.2 976.7 L1284.2 977.5 L1287.2 978.4 L1290.2 979.3 L1293.2 980.3 L1296.2 981.1 L1299.2 981.7 L1302.2 982.5 L1305.2 983.5 L1308.2 984.8 L1311.2 986.2 L1314.2 987.4 L1317.2 988.2 L1320.2 988.8 L1323.2 989.4 L1326.2 990.2 L1329.2 991.1 L1332.2 992.0 L1335.2 993.0 L1338.2 994.0 L1341.2 995.0 L1344.2 995.8 L1347.2 996.4 L1350.2 997.2 L1353.2 998.0 L1356.2 998.8 L1359.2 999.7 L1362.2 1000.9 L1365.2 1002.0 L1368.2 1002.9 L1371.2 1003.8 L1374.2 1004.8 L1377.2 1005.8 L1380.2 1006.6 L1383.2 1007.1 L1386.2 1007.4 L1389.2 1007.9 L1392.2 1008.7 L1395.2 1009.5 L1398.2 1010.7 L1401.2 1012.0 L1404.2 1013.4 L1407.2 1014.3 L1410.2 1014.7 L1413.2 1015.1 L1416.2 1015.8 L1419.2 1016.8 L1422.2 1017.7 L1425.2 1018.5 L1428.2 1019.2 L1431.2 1020.4 L1434.2 1021.9 L1437.2 1022.9 L1440.2 1023.6 L1443.2 1024.0 L1446.2 1024.3 L1449.2 1025.1 L1452.2 1026.2 L1455.2 1027.0 L1458.2 1027.5 L1461.2 1027.9 L1464.2 1028.4 L1467.2 1029.0 L1470.2 1029.7 L1473.2 1030.4 L1476.2 1031.0 L1479.2 1031.6 L1482.2 1032.3 L1485.2 1033.1 L1488.2 1033.9 L1491.2 1034.7 L1494.2 1035.6 L1497.2 1036.4 L1500.2 1037.2 L1503.2 1038.0 L1506.2 1038.8 L1509.2 1039.6 L1512.2 1040.3 L1515.2 1040.7 L1518.2 1041.0 L1521.2 1041.4 L1524.2 1041.9 L1527.2 1042.6 L1530.2 1043.3 L1533.2 1044.2 L1536.2 1045.2 L1539.2 1046.3 L1542.2 1047.4 L1545.2 1048.3 L1548.2 1048.9 L1551.2 1049.3 L1554.2 1049.7 L1557.2 1050.3 L1560.2 1051.3 L1563.2 1052.0 L1566.2 1052.3 L1569.2 1052.3 L1572.2 1052.6 L1575.2 1053.3 L1578.2 1054.2 L1581.2 1055.0 L1584.2 1055.8 L1587.2 1056.7 L1590.2 1057.6 L1593.2 1058.4 L1596.2 1059.3 L1599.2 1059.9 L1602.2 1060.4 L1605.2 1060.8 L1608.2 1061.2 L1611.2 1061.5 L1614.2 1061.7 L1617.2 1062.0 L1620.2 1062.6 L1623.2 1063.5 L1626.2 1064.2 L1629.2 1064.8 L1632.2 1065.5 L1635.2 1066.4 L1638.2 1067.4 L1641.2 1068.0 L1644.2 1068.1 L1647.2 1067.9 L1650.2 1067.8 L1653.2 1068.3 L1656.2 1068.9 L1659.2 1069.8 L1662.2 1070.6 L1665.2 1071.6 L1668.2 1072.8 L1671.2 1074.2 L1674.2 1075.1 L1677.2 1075.6 L1680.2 1076.1 L1683.2 1076.6 L1686.2 1076.7 L1689.2 1076.5 L1692.2 1076.6 L1695.2 1077.2 L1698.2 1078.4 L1701.2 1079.7 L1704.2 1080.8 L1707.2 1081.5 L1710.2 1081.8 L1713.2 1082.1 L1716.2 1082.3 L1719.2 1082.8 L1722.2 1083.2 L1725.2 1083.4 L1728.2 1083.6 L1731.2 1084.2 L1734.2 1084.8 L1737.2 1085.2 L1740.2 1085.8 L1743.2 1086.9 L1746.2 1088.1 L1749.2 1088.8 L1752.2 1088.8 L1755.2 1088.6 L1758.2 1088.6 L1761.2 1088.8 L1764.2 1089.3 L1767.2 1089.9 L1770.2 1090.5 L1773.2 1091.1 L1776.2 1091.5 L1779.2 1091.8 L1782.2 1092.1 L1785.2 1092.8 L1788.2 1093.7 L1791.2 1094.7 L1794.2 1095.5 L1797.2 1096.3 L1800.2 1096.9 L1803.2 1097.0 L1806.2 1096.9 L1809.2 1096.8 L1812.2 1097.2 L1815.2 1098.2 L1818.2 1099.9 L1821.2 1101.4 L1824.2 1102.2 L1827.2 1102.4 L1830.2 1102.4 L1833.2 1102.5 L1836.2 1102.8 L1839.2 1103.1 L1842.2 1103.4 L1845.2 1104.0 L1848.2 1105.1 L1851.2 1106.2 L1854.2 1107.0 L1857.2 1107.7 L1860.2 1108.2 L1863.2 1108.4 L1866.2 1108.5 L1869.2 1108.6 L1872.2 1108.7 L1875.2 1109.1 L1878.2 1109.8 L1881.2 1110.5 L1884.2 1111.1 L1887.2 1111.9 L1890.2 1112.9 L1893.2 1114.1 L1896.2 1115.1 L1899.2 1115.6 L1902.2 1115.8 L1905.2 1115.8 L1908.2 1115.6 L1911.2 1115.4 L1914.2 1115.5 L1917.2 1116.0 L1920.2 1116.9 L1923.2 1117.9 L1926.2 1118.8 L1929.2 1119.8 L1932.2 1120.8 L1935.2 1121.6 L1938.2 1121.9 L1941.2 1121.8 L1944.2 1121.7 L1947.2 1122.0 L1950.2 1122.7 L1953.2 1123.7 L1956.2 1124.8 L1959.2 1125.6 L1962.2 1125.9 L1965.2 1126.0 L1968.2 1126.1 L1971.2 1126.3 L1974.2 1126.8 L1977.2 1127.5 L1980.2 1128.4 L1983.2 1129.2 L1986.2 1129.7 L1989.2 1129.7 L1992.2 1129.8 L1995.2 1130.0 L1998.2 1130.3 L2001.2 1130.5 L2004.2 1130.8 L2007.2 1131.3 L2010.2 1132.3 L2013.2 1133.5 L2016.2 1134.5 L2019.2 1134.9 L2022.2 1135.1 L2025.2 1135.6 L2028.2 1135.9 L2031.2 1135.9 L2034.2 1135.7 L2037.2 1135.7 L2040.2 1136.3 L2043.2 1137.2 L2046.2 1138.0 L2049.2 1138.7 L2052.2 1139.7 L2055.2 1140.6 L2058.2 1141.4 L2061.2 1141.8 L2064.2 1142.2 L2067.2 1142.5 L2070.2 1142.3 L2073.2 1142.0 L2076.2 1141.6 L2079.2 1141.6 L2082.2 1142.0 L2085.2 1142.6 L2088.2 1143.4 L2091.2 1144.3 L2094.2 1145.3 L2097.2 1146.0 L2100.2 1146.2 L2103.2 1145.7 L2106.2 1145.4 L2109.2 1145.7 L2112.2 1146.4 L2115.2 1147.1 L2118.2 1147.2 L2121.2 1146.7 L2124.2 1146.2 L2127.2 1146.5 L2130.2 1147.2 L2133.2 1147.8 L2136.2 1148.0 L2139.2 1147.8 L2142.2 1147.6 L2145.2 1147.3 L2148.2 1147.1 L2151.2 1147.0 L2154.2 1147.2 L2157.2 1147.6 L2160.2 1147.7 L2163.2 1147.5 L2166.0 1149.2" stroke="#f00" stroke-width="9.7"/><path d="M1556.9 1511.0 L1561.5 1511.0 L1567.8 1511.0 L1575.3 1511.0 L1583.5 1511.0 L1591.9 1511.0 L1600.0 1511.0 L1607.9 1511.0 L1616.2 1511.0 L1624.6 1511.0 L1633.1 1511.0 L1641.6 1511.0 L1650.0 1511.0 L1658.5 1511.0 L1667.2 1511.1 L1675.9 1511.1 L1684.4 1511.1 L1692.5 1511.1 L1700.0 1511.0 L1706.9 1510.8 L1713.5 1510.7 L1719.7 1510.4 L1725.4 1510.1 L1730.5 1509.6 L1735.0 1509.0 L1738.6 1508.2 L1741.2 1507.3 L1743.3 1506.3 L1745.1 1505.1 L1747.1 1503.6 L1749.5 1502.0 L1752.3 1500.3 L1755.3 1498.6 L1758.4 1496.8 L1761.5 1494.5 L1764.7 1491.6 L1768.0 1487.8 L1771.4 1482.9 L1775.1 1477.1 L1778.8 1470.6 L1782.5 1463.8 L1785.8 1457.1 L1788.8 1450.8 L1791.3 1444.9 L1793.3 1439.2 L1795.2 1433.5 L1796.9 1427.9 L1798.6 1422.0 L1800.4 1416.0 L1802.3 1409.7 L1804.3 1403.1 L1806.3 1396.5 L1808.2 1389.8 L1810.1 1383.2 L1812.0 1376.7 L1813.8 1370.5 L1815.6 1364.4 L1817.4 1358.3 L1819.1 1352.3 L1820.8 1346.1 L1822.4 1339.7 L1823.9 1332.8 L1825.3 1325.4 L1826.6 1317.9 L1827.9 1310.6 L1829.2 1303.9 L1830.5 1298.0 L1831.8 1293.1 L1833.0 1288.8 L1834.1 1285.0 L1835.4 1281.7 L1836.6 1278.7 L1838.0 1276.0 L1839.5 1273.4 L1841.1 1271.0 L1842.8 1269.0 L1844.5 1267.4 L1846.2 1266.4 L1847.8 1266.0 L1849.4 1266.3 L1851.0 1267.2 L1852.6 1268.7 L1854.1 1270.7 L1855.6 1273.1 L1857.0 1276.0 L1858.3 1279.3 L1859.5 1283.2 L1860.6 1287.5 L1861.7 1292.2 L1862.8 1297.3 L1864.0 1302.7 L1865.3 1308.5 L1866.5 1314.9 L1867.9 1321.6 L1869.2 1328.4 L1870.6 1335.3 L1872.0 1342.0 L1873.5 1348.6 L1875.0 1355.2 L1876.5 1361.8 L1878.1 1368.4 L1879.7 1374.9 L1881.3 1381.3 L1882.9 1387.6 L1884.5 1393.7 L1886.1 1399.8 L1887.8 1406.0 L1889.6 1412.1 L1891.8 1418.4 L1894.3 1425.1 L1897.1 1432.1 L1900.1 1439.2 L1903.1 1446.1 L1906.1 1452.3 L1909.0 1457.7 L1911.7 1462.0 L1914.1 1465.6 L1916.6 1468.6 L1919.2 1471.2 L1921.9 1473.6 L1925.0 1476.0 L1928.3 1478.4 L1931.7 1480.6 L1935.4 1482.6 L1939.3 1484.4 L1943.6 1486.2 L1948.4 1487.8 L1953.8 1489.3 L1959.7 1490.7 L1966.0 1492.0 L1972.5 1493.2 L1979.1 1494.2 L1985.5 1495.0 L1991.8 1495.7 L1998.2 1496.1 L2004.6 1496.5 L2011.1 1496.7 L2017.5 1496.8 L2024.0 1497.0 L2030.5 1497.1 L2036.9 1497.1 L2043.4 1497.1 L2049.9 1497.0 L2056.4 1497.0 L2063.0 1497.0 L2069.6 1497.1 L2076.3 1497.1 L2083.0 1497.2 L2089.7 1497.4 L2096.4 1497.6 L2103.0 1498.0 L2109.8 1498.6 L2116.8 1499.4 L2123.8 1500.3 L2130.4 1501.2 L2136.6 1502.0 L2142.0 1502.6 L2146.7 1503.0 L2150.8 1503.4 L2154.4 1503.6 L2157.5 1503.8 L2160.0 1503.9 L2162.0 1504.0" stroke="#00f" stroke-width="9.7" stroke-dasharray="14.4 24.6"/></g><g font-family="'Liberation Sans', Arial, sans-serif" font-size="82" fill="#000"><text transform="translate(310.6 1600.8) scale(1 1.03)" text-anchor="middle">300</text><text transform="translate(721.9 1600.8) scale(1 1.03)" text-anchor="middle">400</text><text transform="translate(1133.1 1600.8) scale(1 1.03)" text-anchor="middle">500</text><text transform="translate(1544.3 1600.8) scale(1 1.03)" text-anchor="middle">600</text><text transform="translate(1955.5 1600.8) scale(1 1.03)" text-anchor="middle">700</text><text transform="translate(284 1532.9) scale(1 1.03)" text-anchor="end">0.0</text><text transform="translate(284 1246.8) scale(1 1.03)" text-anchor="end">0.3</text><text transform="translate(284 960.7) scale(1 1.03)" text-anchor="end">0.6</text><text transform="translate(284 674.7) scale(1 1.03)" text-anchor="end">0.9</text><text transform="translate(284 388.6) scale(1 1.03)" text-anchor="end">1.2</text><text transform="translate(284 102.5) scale(1 1.03)" text-anchor="end">1.5</text></g><text x="871.5" y="1723.5" font-family="'Liberation Sans', Arial, sans-serif" font-size="100.5" textLength="730.9" lengthAdjust="spacingAndGlyphs">Wavelength [nm]</text><text transform="translate(128 1208.6) rotate(-90)" x="0" y="0" font-family="'Liberation Sans', Arial, sans-serif" font-size="100.5" textLength="869.4" lengthAdjust="spacingAndGlyphs">Normalised intensity</text><g fill="none" stroke-linecap="round"><path d="M1129.85 181.5 H1296.85" stroke="#000" stroke-width="9.7"/><path d="M1129.85 274 H1296.85" stroke="#f00" stroke-width="9.7"/><path d="M1129.85 365.2 H1296.85" stroke="#0f0" stroke-width="9.7"/><path d="M1129.85 457.8 H1262" stroke="#00f" stroke-width="9.7" stroke-dasharray="14.4 24.6"/></g><g font-family="'Liberation Sans', Arial, sans-serif" font-size="75.6" fill="#000"><text x="1317.3" y="206.0" textLength="628.6" lengthAdjust="spacingAndGlyphs">AgNWs absorption</text><text x="1316.7" y="298.5" textLength="818.6" lengthAdjust="spacingAndGlyphs">aged AgNWs absorption</text><text x="1316" y="389.7" textLength="528.7" lengthAdjust="spacingAndGlyphs">PCP absorption</text><text x="1316" y="482.3" textLength="605.3" lengthAdjust="spacingAndGlyphs">PCP fluorescence</text></g></svg>
</body></html>
